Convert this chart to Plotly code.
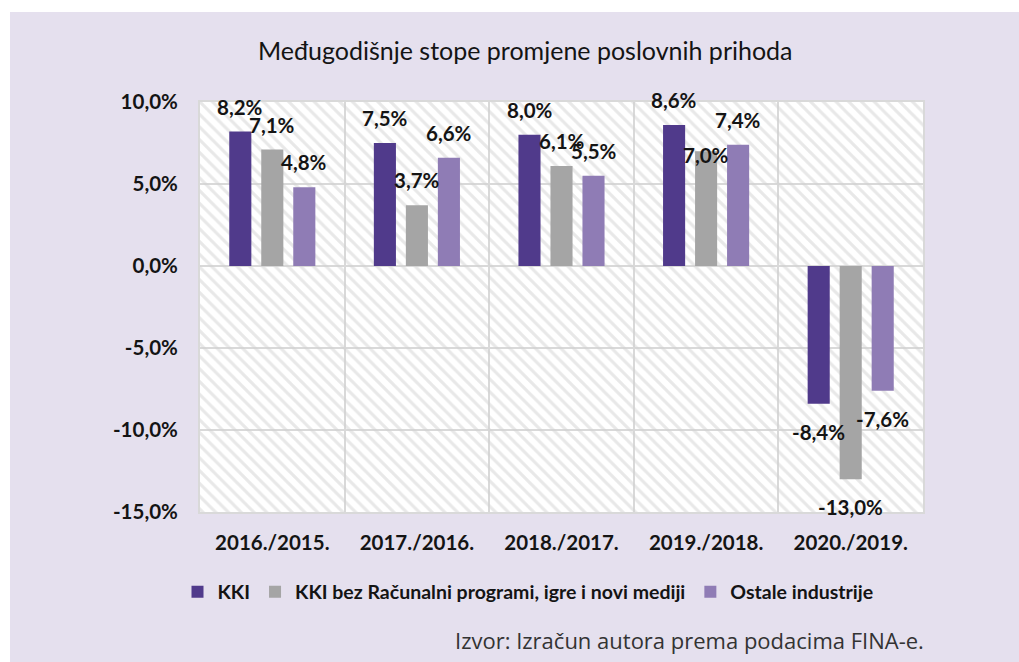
import plotly.graph_objects as go

categories = ["2016./2015.", "2017./2016.", "2018./2017.", "2019./2018.", "2020./2019."]
kki = [8.2, 7.5, 8.0, 8.6, -8.4]
kki_bez = [7.1, 3.7, 6.1, 7.0, -13.0]
ostale = [4.8, 6.6, 5.5, 7.4, -7.6]
series_names = ["KKI", "KKI bez Računalni programi, igre i novi mediji", "Ostale industrije"]
colors = ["#503a8b", "#a5a5a5", "#8f7cb5"]
y_tickvals = [-15, -10, -5, 0, 5, 10]
y_ticktext = ["-15,0%", "-10,0%", "-5,0%", "0,0%", "5,0%", "10,0%"]

FONT = "Lato"
TXT = "#141414"
LBL = 20.5

# label placement (pixels): default above/below bar end; one label sits on the bar top
label_yshift_override = {(1, 3): -4}

fig = go.Figure()

# hatched plot background on hidden main axes
fig.add_trace(go.Scatter(
    x=[0, 1, 1, 0, 0], y=[0, 0, 1, 1, 0], mode="lines", fill="toself",
    line=dict(width=0), fillcolor="rgba(0,0,0,0)",
    fillpattern=dict(shape="\\", fgcolor="#d2d2d2", bgcolor="rgba(0,0,0,0)", size=9, solidity=0.35),
    hoverinfo="skip", showlegend=False, xaxis="x", yaxis="y"))

all_series = [kki, kki_bez, ostale]
for name, vals, col in zip(series_names, all_series, colors):
    fig.add_trace(go.Bar(x=categories, y=vals, name=name, marker=dict(color=col, line=dict(width=0)),
                         xaxis="x2", yaxis="y2"))

def fmt(v):
    return ("%.1f" % v).replace(".", ",") + "%"

shifts = [-32, 0, 32]
for si, (vals, xs) in enumerate(zip(all_series, shifts)):
    for ci, (c, v) in enumerate(zip(categories, vals)):
        ys = label_yshift_override.get((si, ci), 25 if v >= 0 else -28)
        fig.add_annotation(x=c, y=v, xref="x2", yref="y2", text=fmt(v), showarrow=False,
                           xshift=xs, yshift=ys, yanchor="middle",
                           font=dict(family=FONT, size=LBL, color=TXT, weight="bold"))

fig.add_annotation(text="Međugodišnje stope promjene poslovnih prihoda", xref="paper", yref="paper",
                   x=(525 - 200) / 723, y=(512 - 50) / 410, showarrow=False, yanchor="middle",
                   font=dict(family=FONT, size=25, color=TXT))
fig.add_annotation(text="Izvor: Izračun autora prema podacima FINA-e.", xref="paper", yref="paper",
                   x=(926 - 200) / 723, y=(512 - 640) / 410, showarrow=False, xanchor="right",
                   yanchor="middle", font=dict(family="Open Sans", size=22, color="#333333"))

# thin white strips on top and left edge
fig.add_shape(type="rect", xref="paper", yref="paper", x0=(-5 - 200) / 723, x1=(1030 - 200) / 723,
              y0=(512 - 12) / 410, y1=(512 + 5) / 410, fillcolor="white", line=dict(width=0), layer="below")
fig.add_shape(type="rect", xref="paper", yref="paper", x0=(-5 - 200) / 723, x1=(10 - 200) / 723,
              y0=(512 - 670) / 410, y1=(512 + 5) / 410, fillcolor="white", line=dict(width=0), layer="below")

fig.update_layout(
    width=1019, height=662,
    margin=dict(l=200, r=96, t=102, b=150),
    paper_bgcolor="#e5e0ee", plot_bgcolor="white",
    barmode="group", bargap=0.336, bargroupgap=0.31,
    showlegend=True,
    legend=dict(orientation="h", x=(528 - 200) / 723, xanchor="center", y=(512 - 592) / 410, yanchor="middle",
                font=dict(family=FONT, size=19.5, color=TXT, weight="bold"), bgcolor="rgba(0,0,0,0)",
                itemwidth=30, traceorder="normal"),
    xaxis=dict(range=[0, 1], visible=False, fixedrange=True),
    yaxis=dict(range=[0, 1], visible=False, fixedrange=True),
    xaxis2=dict(overlaying="x", type="category", tickson="boundaries", showgrid=True, gridcolor="#d9d9d9",
                gridwidth=2, showline=True, mirror=True, linecolor="#d9d9d9", linewidth=2, ticks="",
                ticklabelstandoff=11, tickfont=dict(family=FONT, size=LBL, color=TXT, weight="bold")),
    yaxis2=dict(overlaying="y", range=[-15, 10], tickvals=y_tickvals, ticktext=y_ticktext, showgrid=True,
                gridcolor="#d9d9d9", gridwidth=2, zeroline=False, showline=True, mirror=True,
                linecolor="#d9d9d9", linewidth=2, ticks="", ticklabelstandoff=16,
                tickfont=dict(family=FONT, size=LBL, color=TXT, weight="bold")),
)

fig.write_html("out.html", config={"displayModeBar": False},
               post_script="document.body.style.margin='0';document.body.style.overflow='hidden';")
